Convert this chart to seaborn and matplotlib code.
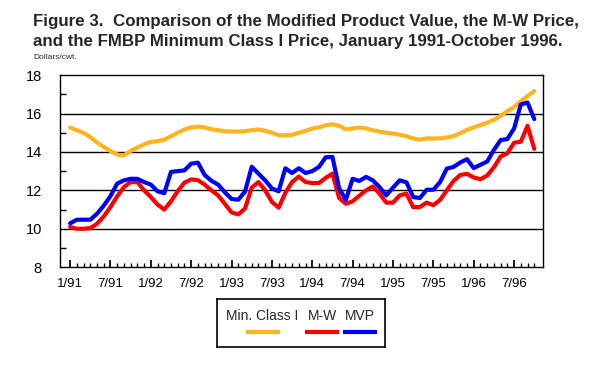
import matplotlib
matplotlib.use("Agg")
import matplotlib.pyplot as plt
import seaborn as sns
import pandas as pd
import numpy as np

# monthly, Jan 1991 - Oct 1996 (dollars/cwt.)
min_class_i = [15.27, 15.13, 14.99, 14.78, 14.49, 14.26, 14.05, 13.86, 13.82, 14.05,
               14.23, 14.40, 14.52, 14.56, 14.64, 14.82, 15.00, 15.17, 15.28, 15.32,
               15.28, 15.18, 15.13, 15.08, 15.06, 15.06, 15.08, 15.13, 15.17, 15.10,
               15.00, 14.87, 14.87, 14.89, 15.00, 15.10, 15.22, 15.28, 15.39, 15.44,
               15.36, 15.18, 15.22, 15.27, 15.22, 15.13, 15.06, 15.00, 14.96, 14.90,
               14.82, 14.70, 14.64, 14.70, 14.70, 14.71, 14.75, 14.82, 14.98, 15.15,
               15.28, 15.40, 15.52, 15.68, 15.88, 16.12, 16.34, 16.64, 16.91, 17.17]
m_w = [10.09, 10.00, 10.00, 10.03, 10.26, 10.64, 11.13, 11.69, 12.17, 12.43,
       12.43, 12.00, 11.65, 11.26, 11.00, 11.43, 11.96, 12.40, 12.57, 12.53,
       12.30, 12.00, 11.74, 11.30, 10.85, 10.75, 11.05, 12.14, 12.43, 12.00,
       11.40, 11.10, 11.87, 12.43, 12.72, 12.43, 12.38, 12.38, 12.65, 12.87,
       11.60, 11.30, 11.43, 11.72, 12.00, 12.20, 11.83, 11.36, 11.36, 11.74,
       11.83, 11.13, 11.13, 11.36, 11.23, 11.50, 12.00, 12.49, 12.80, 12.86,
       12.67, 12.58, 12.77, 13.20, 13.76, 13.93, 14.48, 14.53, 15.36, 14.16]
mvp = [10.28, 10.47, 10.47, 10.47, 10.78, 11.20, 11.70, 12.35, 12.52, 12.60,
       12.60, 12.43, 12.30, 11.95, 11.85, 12.96, 13.00, 13.04, 13.39, 13.44,
       12.80, 12.50, 12.30, 11.90, 11.55, 11.51, 11.93, 13.23, 12.87, 12.52,
       12.10, 11.95, 13.15, 12.90, 13.15, 12.90, 13.00, 13.22, 13.72, 13.74,
       12.10, 11.51, 12.60, 12.49, 12.70, 12.52, 12.17, 11.74, 12.14, 12.52,
       12.42, 11.65, 11.60, 12.03, 12.03, 12.43, 13.13, 13.22, 13.45, 13.62,
       13.16, 13.33, 13.50, 14.10, 14.62, 14.67, 15.22, 16.47, 16.57, 15.71]
tick_labels = ["1/91", "7/91", "1/92", "7/92", "1/93", "7/93",
               "1/94", "7/94", "1/95", "7/95", "1/96", "7/96"]
series_names = ["Min. Class I", "M-W", "MVP"]
colors = ["#FFB41E", "#FF0000", "#0000FF"]

months = np.arange(len(mvp))
df = pd.DataFrame({"month": np.tile(months, 3),
                   "price": min_class_i + m_w + mvp,
                   "series": np.repeat(series_names, len(mvp))})

sns.set_theme(style="white")
plt.rcParams["font.family"] = ["Liberation Sans", "DejaVu Sans"]

fig = plt.figure(figsize=(6, 3.7), dpi=100)
ax = fig.add_axes([0.1, 0.278, 0.805, 0.519])
sns.lineplot(data=df, x="month", y="price", hue="series", hue_order=series_names,
             palette=colors, linewidth=3, legend=False, ax=ax)

ax.set_xlim(-1.5, 70.3)
ax.set_ylim(8, 18)
ax.set_yticks(range(8, 19, 2))
ax.set_yticks(range(9, 18, 2), minor=True)
ax.set_xticks(np.arange(0, 67, 6))
ax.set_xticklabels(tick_labels)
ax.set_xticks(np.arange(0, 70, 1), minor=True)
for v in range(10, 17, 2):
    ax.axhline(v, color="black", linewidth=1, zorder=0)
for s in ax.spines.values():
    s.set_color("black")
    s.set_linewidth(1)
ax.tick_params(axis="both", which="both", direction="in", colors="black", labelsize=9.5)
ax.tick_params(axis="y", which="major", length=0, pad=13, labelsize=10.5)
ax.tick_params(axis="y", which="minor", length=4, left=True)
ax.tick_params(axis="x", which="major", length=5, bottom=True, pad=8)
ax.tick_params(axis="x", which="minor", length=3, bottom=True)
ax.set_xlabel("")
ax.set_ylabel("")

fig.text(0.055, 0.962, "Figure 3.  Comparison of the Modified Product Value, the M-W Price,\n"
         "and the FMBP Minimum Class I Price, January 1991-October 1996.",
         fontsize=12.2, fontweight="bold", va="top", ha="left", linespacing=1.42)
fig.text(0.055, 0.835, "Dollars/cwt.", fontsize=6, va="bottom", ha="left")

# legend box: labels above keys
lax = fig.add_axes([217 / 600, 1 - 347 / 370, 168 / 600, 48 / 370])
lax.set_xlim(217, 385)
lax.set_ylim(347, 299)
lax.set_xticks([])
lax.set_yticks([])
for s in lax.spines.values():
    s.set_color("black")
    s.set_linewidth(1.2)
for name, c, tx, (x0, x1) in zip(series_names, colors, [262, 322, 360],
                                 [(246, 280), (305, 339), (343, 377)]):
    lax.text(tx, 316, name, ha="center", va="center", fontsize=10)
    lax.plot([x0, x1], [332, 332], color=c, linewidth=3, solid_capstyle="butt")

fig.savefig("out.png", dpi=100)
